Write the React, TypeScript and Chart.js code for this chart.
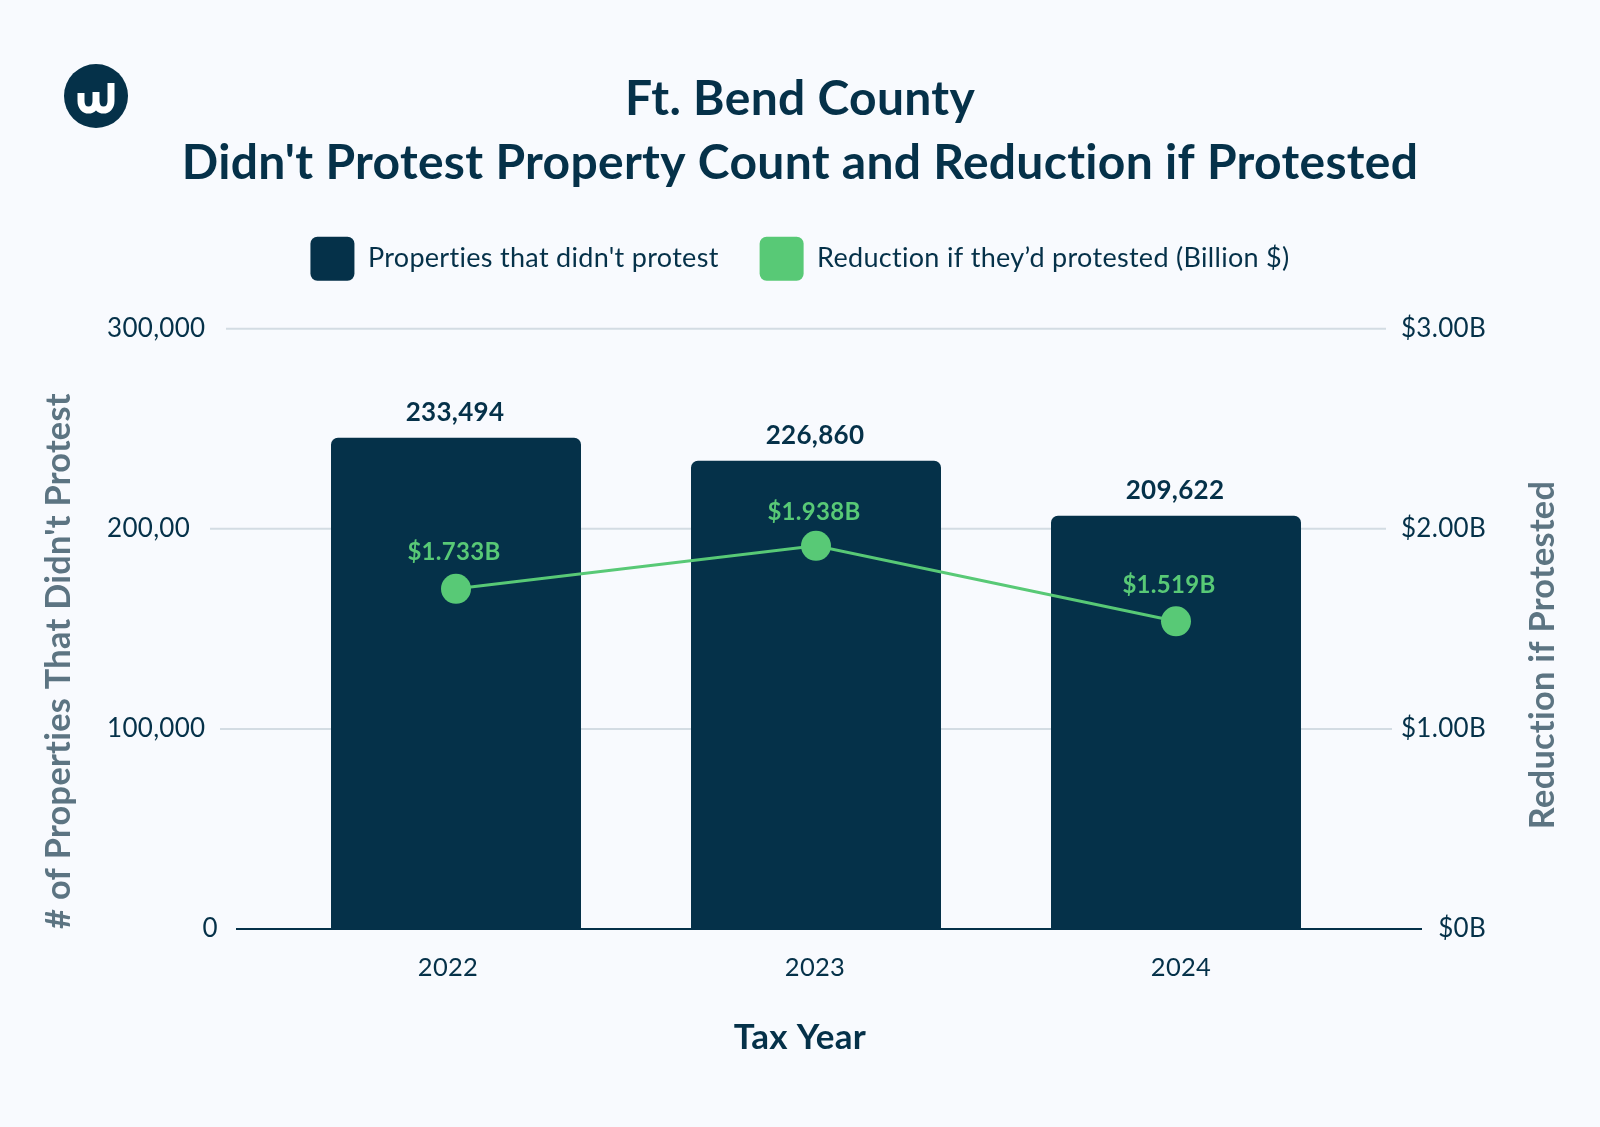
import React, { useEffect, useRef } from "react";
import { Chart, registerables } from "chart.js";

Chart.register(...registerables);

const categories = ["2022", "2023", "2024"];
const barValues = [245500, 234000, 206500];
const barLabels = ["233,494", "226,860", "209,622"];
const lineValues = [1.7, 1.915, 1.5375];
const lineLabels = ["$1.733B", "$1.938B", "$1.519B"];
const leftTickLabels: Record<number, string> = { 100000: "100,000", 200000: "200,00", 300000: "300,000" };
const rightTickLabels: Record<number, string> = { 0: "$0B", 1: "$1.00B", 2: "$2.00B", 3: "$3.00B" };
const titleLines = ["Ft. Bend County", "Didn't Protest Property Count and Reduction if Protested"];
const seriesNames = ["Properties that didn't protest", "Reduction if they\u2019d protested (Billion $)"];
const gridTicks = [100000, 200000, 300000];

const NAVY = "#053149";
const GREEN = "#58C976";
const SLATE = "#5C7482";
const GRID = "#D3DCE3";
const BG = "#F8FAFE";
const FONT = "Lato, sans-serif";
const SPACING = "0.3px";

const decorations = {
  id: "decorations",
  beforeInit(chart: any) {
    const fit = chart.legend.fit;
    chart.legend.fit = function () {
      fit.call(this);
      this.height += 38;
    };
  },
  beforeLayout(chart: any) {
    chart.ctx.letterSpacing = SPACING;
  },
  afterLayout(chart: any) {
    // the right-hand tick labels end a little short of the symmetric page padding
    chart.scales.y1.right = 1486;
  },
  beforeDraw(chart: any) {
    chart.ctx.letterSpacing = SPACING;
  },
  beforeDatasetsDraw(chart: any) {
    const { ctx, scales } = chart;
    const gridStart: Record<number, number> = { 100000: 220, 200000: 210, 300000: 226 };
    const gridEnd: Record<number, number> = { 100000: 1392, 200000: 1386, 300000: 1386 };
    ctx.save();
    ctx.strokeStyle = GRID;
    ctx.lineWidth = 2;
    gridTicks.forEach((t) => {
      const y = scales.y.getPixelForValue(t);
      ctx.beginPath();
      ctx.moveTo(gridStart[t], y);
      ctx.lineTo(gridEnd[t], y);
      ctx.stroke();
    });
    ctx.restore();
  },
  afterDatasetsDraw(chart: any) {
    const { ctx, scales } = chart;
    const baseY = scales.y.getPixelForValue(0);
    ctx.save();
    // baseline
    ctx.strokeStyle = NAVY;
    ctx.lineWidth = 2;
    ctx.beginPath();
    ctx.moveTo(236, baseY);
    ctx.lineTo(1422, baseY);
    ctx.stroke();

    ctx.textAlign = "center";
    ctx.textBaseline = "middle";

    // value labels
    const barMeta = chart.getDatasetMeta(0).data;
    const lineMeta = chart.getDatasetMeta(1).data;
    const lineOffsets = [[-2, -37], [-2, -34], [-7, -36]];
    ctx.font = `700 26px ${FONT}`;
    ctx.fillStyle = NAVY;
    barMeta.forEach((el: any, i: number) => {
      ctx.fillText(barLabels[i], el.x - 1, el.y - 25);
    });
    ctx.font = `700 24px ${FONT}`;
    ctx.fillStyle = GREEN;
    lineMeta.forEach((el: any, i: number) => {
      ctx.fillText(lineLabels[i], el.x + lineOffsets[i][0], el.y + lineOffsets[i][1]);
    });

    // category labels
    const catOffsets = [-8, -1, 5];
    ctx.font = `400 25.5px ${FONT}`;
    ctx.fillStyle = NAVY;
    categories.forEach((c, i) => {
      ctx.fillText(c, scales.x.getPixelForValue(i) + catOffsets[i], baseY + 39);
    });

    // the zero tick on the left sits apart from the others
    ctx.font = `400 26px ${FONT}`;
    ctx.textAlign = "right";
    ctx.fillText("0", 218, baseY);
    ctx.textAlign = "center";

    // axis titles
    ctx.font = `700 35px ${FONT}`;
    ctx.fillText("Tax Year", 800, 1038);
    ctx.fillStyle = SLATE;
    ctx.font = `700 34.3px ${FONT}`;
    ctx.save();
    ctx.translate(59, 661);
    ctx.rotate(-Math.PI / 2);
    ctx.fillText("# of Properties That Didn't Protest", 0, 0);
    ctx.restore();
    ctx.save();
    ctx.translate(1543, 655);
    ctx.rotate(-Math.PI / 2);
    ctx.fillText("Reduction if Protested", 0, 0);
    ctx.restore();

    // logo
    ctx.fillStyle = NAVY;
    ctx.beginPath();
    ctx.arc(96, 96, 32, 0, Math.PI * 2);
    ctx.fill();
    ctx.strokeStyle = "#FFFFFF";
    ctx.lineWidth = 7;
    ctx.lineCap = "butt";
    ctx.beginPath();
    ctx.moveTo(81, 93);
    ctx.lineTo(81, 101);
    ctx.bezierCurveTo(81, 113, 96, 113, 96, 101);
    ctx.lineTo(96, 92);
    ctx.moveTo(96, 101);
    ctx.bezierCurveTo(96, 113, 111, 113, 111, 101);
    ctx.lineTo(111, 83);
    ctx.stroke();
    ctx.restore();
  },
};

export default function App() {
  const ref = useRef<HTMLCanvasElement>(null);
  useEffect(() => {
    document.body.style.margin = "0";
    document.body.style.background = BG;
    const chart = new Chart(ref.current as HTMLCanvasElement, {
      type: "bar",
      data: {
        labels: categories,
        datasets: [
          {
            type: "bar",
            label: seriesNames[0],
            data: barValues,
            backgroundColor: NAVY,
            borderRadius: 7,
            barPercentage: 250 / 360,
            categoryPercentage: 1,
            yAxisID: "y",
            order: 2,
          },
          {
            type: "line",
            label: seriesNames[1],
            data: lineValues,
            borderColor: GREEN,
            backgroundColor: GREEN,
            borderWidth: 3,
            pointRadius: 15,
            pointBackgroundColor: GREEN,
            pointBorderWidth: 0,
            tension: 0,
            yAxisID: "y1",
            order: 1,
          },
        ] as any,
      },
      options: {
        responsive: false,
        animation: false,
        layout: { padding: { top: 68, left: 107, right: 107 } },
        plugins: {
          tooltip: { enabled: false },
          title: {
            display: true,
            text: titleLines,
            color: NAVY,
            font: { family: FONT, size: 48, weight: 700, lineHeight: 1.33 },
            padding: { top: 0, bottom: 0 },
          },
          legend: {
            position: "top",
            onClick: () => {},
            labels: {
              boxWidth: 44,
              boxHeight: 44,
              padding: 41,
              color: NAVY,
              font: { family: FONT, size: 27 },
              useBorderRadius: true,
              borderRadius: 7,
              sort: (a: any, b: any) => a.datasetIndex - b.datasetIndex,
              generateLabels: (c: any) =>
                Chart.defaults.plugins.legend.labels
                  .generateLabels(c)
                  .map((l: any) => ({ ...l, lineWidth: 0 })),
            },
          },
        },
        scales: {
          x: {
            grid: { display: false },
            border: { display: false },
            ticks: { display: false },
            afterFit: (s: any) => {
              s.height = 198;
            },
          },
          y: {
            position: "left",
            min: 0,
            max: 300000,
            border: { display: false },
            grid: { display: false },
            ticks: {
              stepSize: 100000,
              color: NAVY,
              crossAlign: "far",
              font: { family: FONT, size: 26 },
              callback: (v: any) => leftTickLabels[v] ?? "",
            },
            afterFit: (s: any) => {
              s.width = 169;
            },
          },
          y1: {
            position: "right",
            min: 0,
            max: 3,
            border: { display: false },
            grid: { display: false },
            ticks: {
              stepSize: 1,
              color: NAVY,
              crossAlign: "far",
              font: { family: FONT, size: 26 },
              callback: (v: any) => rightTickLabels[v] ?? "",
            },
            afterFit: (s: any) => {
              s.width = 137;
            },
          },
        },
      } as any,
      plugins: [decorations],
    });
    return () => chart.destroy();
  }, []);
  return (
    <div style={{ background: BG, width: 1600, height: 1127 }}>
      <canvas ref={ref} width={1600} height={1127} style={{ display: "block" }} />
    </div>
  );
}
